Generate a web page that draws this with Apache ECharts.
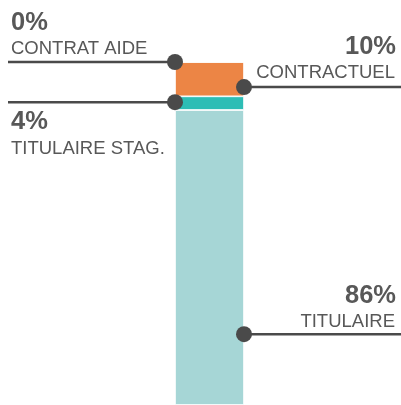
<!DOCTYPE html>
<html><head><meta charset="utf-8">
<script src="https://cdn.jsdelivr.net/npm/echarts@6/dist/echarts.min.js"></script>
<style>html,body{margin:0;padding:0;background:#fff}#c{width:401px;height:405px}</style>
</head><body><div id="c"></div>
<script>
// Data (stacked bottom -> top)
const categories = ['TITULAIRE', 'TITULAIRE STAG.', 'CONTRACTUEL', 'CONTRAT AIDE'];
const values = [86, 4, 10, 0];
const valueLabels = ['86%', '4%', '10%', '0%'];
const colors = ['#A6D6D6', '#2DBDB5', '#EC8545', '#EC8545'];

// Callout layout (side, anchor position within segment from bottom, label center y)
const calloutSide = ['right', 'left', 'right', 'left'];
const calloutFrac = [0.24, 0.57, 0.27, 1.0];
const calloutNumY = [296, 121.5, 47, 22.5];
const calloutTxtY = [321.5, 148.5, 73, 48.5];

const GRID_LEFT = 175, GRID_RIGHT = 157;
const W = 401;
const chart = echarts.init(document.getElementById('c'), null, {renderer: 'canvas'});

const series = categories.map((name, i) => ({
  name: name,
  type: 'bar',
  stack: 'total',
  barWidth: '100%',
  data: [values[i]],
  itemStyle: {color: colors[i], borderColor: '#fff', borderWidth: 0.8},
  emphasis: {disabled: true},
  silent: true
}));

chart.setOption({
  animation: false,
  grid: {left: GRID_LEFT, right: GRID_RIGHT, top: 62, bottom: 0},
  xAxis: {type: 'category', data: ['Statut'], show: false},
  yAxis: {type: 'value', min: 0, max: 100, show: false},
  series: series
});

const lineColor = '#4A4A4A';
const FONT = '"Liberation Sans", Arial, Helvetica, sans-serif';
const graphics = [];
let cum = 0;
const xLeft = GRID_LEFT, xRight = W - GRID_RIGHT;
categories.forEach((name, i) => {
  const v = cum + values[i] * calloutFrac[i];
  cum += values[i];
  const y = chart.convertToPixel({yAxisIndex: 0}, v);
  const side = calloutSide[i];
  const dx = side === 'left' ? xLeft : xRight;
  const x1 = side === 'left' ? 8 : xRight;
  const x2 = side === 'left' ? xLeft : W;
  graphics.push({type: 'line', shape: {x1: x1, y1: y, x2: x2, y2: y},
    style: {stroke: lineColor, lineWidth: 2.5}, z: 10});
  graphics.push({type: 'circle', shape: {cx: dx, cy: y, r: 8},
    style: {fill: lineColor}, z: 11});
  const align = side === 'left' ? 'left' : 'right';
  graphics.push({type: 'text', x: side === 'left' ? 11 : 396, y: calloutNumY[i], z: 12,
    style: {text: valueLabels[i], fill: '#585858', fontFamily: FONT, fontSize: 25.5, fontWeight: 'bold',
      align: align, verticalAlign: 'middle'}});
  graphics.push({type: 'text', x: side === 'left' ? 11 : 395, y: calloutTxtY[i], z: 12,
    style: {text: name, fill: '#585858', fontFamily: FONT, fontSize: 18.5, fontWeight: 'normal',
      align: align, verticalAlign: 'middle'}});
});
chart.setOption({graphic: graphics});
</script>
</body></html>
